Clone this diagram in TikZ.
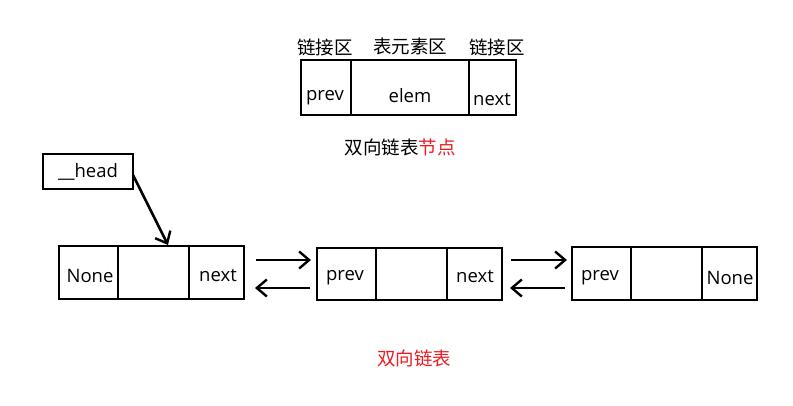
\documentclass[tikz,border=0pt]{standalone}
\usepackage{fontspec}
\setmainfont{Open Sans}
\newfontfamily\cjk{Noto Sans CJK SC}
\usetikzlibrary{arrows.meta}
\definecolor{pred}{HTML}{ED1C24}
\begin{document}
\begin{tikzpicture}[x=1pt,y=-1pt,
  cell/.style={draw=black,line width=2.7pt,inner sep=0pt},
  txt/.style={inner sep=0pt,font=\fontsize{18.5}{20}\selectfont},
  zh/.style={inner sep=0pt,font=\fontsize{18.5}{20}\selectfont\cjk},
  link/.style={line width=2.6pt,-{Straight Barb[length=10pt,width=17pt,line width=2.4pt]}}]
\useasboundingbox[fill=white] (0,0) rectangle (793,405);
% legend node
\node[cell,minimum width=50pt,minimum height=55pt] (tprev) at (326,87.5) {};
\node[cell,minimum width=118pt,minimum height=55pt] (telem) at (410,87.5) {};
\node[cell,minimum width=47pt,minimum height=55pt] (tnext) at (492.5,87.5) {};
\node[zh] (l1) at (325,47) {链接区};
\node[zh] (l2) at (410,46) {表元素区};
\node[zh] (l3) at (497,47) {链接区};
\node[txt] (tp) at (325,98) {prev};
\node[txt] (te) at (410,96) {elem};
\node[txt] (tn) at (492,99) {next};
\node[zh] (cap1) at (400,147) {双向链表\textcolor{pred}{节点}};
% head
\node[cell,minimum width=90pt,minimum height=35pt] (head) at (88,171.5) {};
\node[txt] (headt) at (88,172) {\_\_head};
% node 1
\node[cell,minimum width=59pt,minimum height=53pt] (n1a) at (88.5,272.5) {};
\node[cell,minimum width=71pt,minimum height=53pt] (n1b) at (153.5,272.5) {};
\node[cell,minimum width=55pt,minimum height=53pt] (n1c) at (216.5,272.5) {};
\node[txt] (n1at) at (90,276) {None};
\node[txt] (n1ct) at (218,275) {next};
% node 2
\node[cell,minimum width=59pt,minimum height=52pt] (n2a) at (346.5,274) {};
\node[cell,minimum width=71pt,minimum height=52pt] (n2b) at (411.5,274) {};
\node[cell,minimum width=55pt,minimum height=52pt] (n2c) at (474.5,274) {};
\node[txt] (n2at) at (345,278) {prev};
\node[txt] (n2ct) at (475,276) {next};
% node 3
\node[cell,minimum width=59pt,minimum height=53pt] (n3a) at (601.5,273.5) {};
\node[cell,minimum width=71pt,minimum height=53pt] (n3b) at (666.5,273.5) {};
\node[cell,minimum width=55pt,minimum height=53pt] (n3c) at (729.5,273.5) {};
\node[txt] (n3at) at (600,278) {prev};
\node[txt] (n3ct) at (730,278) {None};
\node[zh,text=pred] (cap2) at (414,358) {双向链表};
% connectors
\coordinate (hs) at (133,175);
\coordinate (ht) at (168,245);
\draw[link] (hs) -- (ht);
\coordinate (a1s) at (256,260); \coordinate (a1e) at (311,260);
\coordinate (b1s) at (310,288); \coordinate (b1e) at (255,288);
\coordinate (a2s) at (511,260); \coordinate (a2e) at (567,260);
\coordinate (b2s) at (565,288); \coordinate (b2e) at (510,288);
\draw[link] (a1s) -- (a1e);
\draw[link] (b1s) -- (b1e);
\draw[link] (a2s) -- (a2e);
\draw[link] (b2s) -- (b2e);
\end{tikzpicture}
\end{document}
